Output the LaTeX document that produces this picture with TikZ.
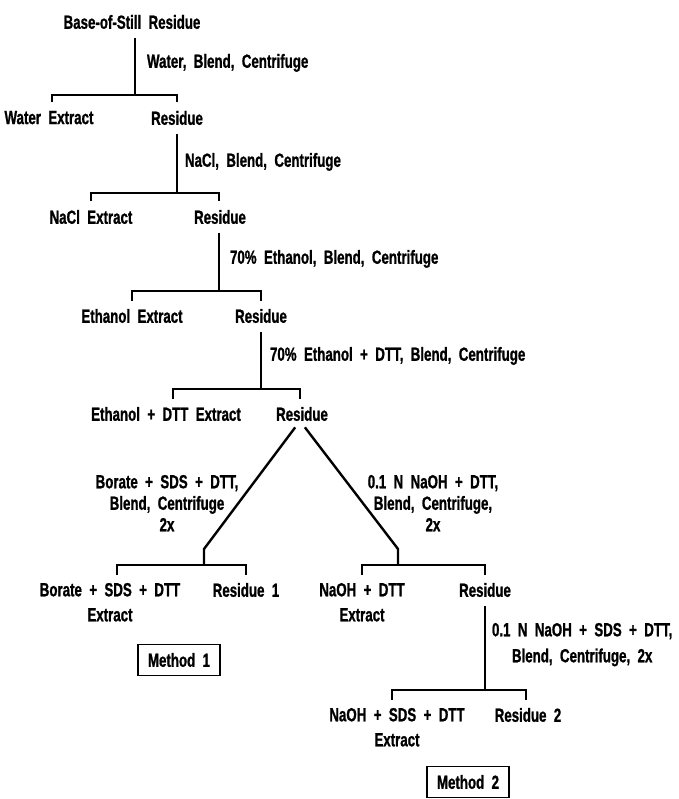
\documentclass[tikz,border=0pt]{standalone}
\usepackage{fontspec}
\newfontfamily\condsans{Liberation Sans}[FakeStretch=0.7,FakeBold=1.0,WordSpace=2.0]
\newcommand{\flowfont}{\condsans\bfseries\fontsize{19}{21.5}\selectfont}
\tikzset{
  txt/.style={inner sep=0pt, outer sep=0pt, font=\flowfont, anchor=north},
  lbl/.style={txt, anchor=north west},
  conn/.style={line width=2.4pt, line cap=butt, line join=miter},
  feed/.style={conn, shorten <=9pt},
  drop/.style={conn, shorten <=8.5pt, shorten >=8.5pt},
  methodbox/.style={draw, line width=1.5pt, inner sep=0pt, minimum width=82pt,
    minimum height=31pt, font=\flowfont}
}
\begin{document}
\begin{tikzpicture}[x=1pt,y=-1pt]
\useasboundingbox (0,0) rectangle (678,799);

% --- stage 1: water
\node[txt] (top) at (132,15) {Base-of-Still Residue};
\node[lbl] (l1) at (147,54) {Water, Blend, Centrifuge};
\node[txt] (wex) at (49,111) {Water Extract};
\node[txt] (r1) at (177,111) {Residue};
\coordinate (j1) at (135,95);
\draw[feed] ([xshift=3pt]top.south) -- (j1);
\draw[drop] ([xshift=3pt]wex.north) |- (j1) -| (r1.north);

% --- stage 2: NaCl
\node[lbl] (l2) at (185,153) {NaCl, Blend, Centrifuge};
\node[txt] (nex) at (91,210) {NaCl Extract};
\node[txt] (r2) at (220,210) {Residue};
\coordinate (j2) at (177,193);
\draw[feed] (r1.south) -- (j2);
\draw[drop] (nex.north) |- (j2) -| ([xshift=-1pt]r2.north);

% --- stage 3: ethanol
\node[lbl] (l3) at (230,250) {70\% Ethanol, Blend, Centrifuge};
\node[txt] (eex) at (132,309) {Ethanol Extract};
\node[txt] (r3) at (261,309) {Residue};
\coordinate (j3) at (219,291);
\draw[feed] ([xshift=-1pt]r2.south) -- (j3);
\draw[drop] (eex.north) |- (j3) -| (r3.north);

% --- stage 4: ethanol + DTT
\node[lbl] (l4) at (270,347) {70\% Ethanol + DTT, Blend, Centrifuge};
\node[txt] (dex) at (166,407) {Ethanol + DTT Extract};
\node[txt] (r4) at (302,407) {Residue};
\coordinate (j4) at (261,389);
\draw[feed] (r3.south) -- (j4);
\draw[drop] ([xshift=7pt]dex.north) |- (j4) -| ([xshift=-2pt]r4.north);

% --- split into the two methods
\node[txt, align=center] (lL) at (167,475)
  {Borate + SDS + DTT,\\Blend, Centrifuge\\2x};
\node[txt, align=center] (lR) at (433,475)
  {0.1 N NaOH + DTT,\\Blend, Centrifuge,\\2x};
\coordinate (kL) at (204,549);
\coordinate (jL) at (204,565);
\coordinate (kR) at (398,549);
\coordinate (jR) at (398,565);
\draw[feed, shorten <=8pt] ([xshift=-2pt]r4.south) -- (kL) -- (jL);
\draw[feed, shorten <=8pt] ([xshift=-2pt]r4.south) -- (kR) -- (jR);

% --- method 1
\node[txt, align=center] (bex) at (110,583) {Borate + SDS + DTT\\[3.5pt]Extract};
\node[txt] (res1) at (246,583) {Residue 1};
\draw[drop] ([xshift=7pt]bex.north) |- (jL) -| (res1.north);
\node[methodbox] (m1) at (179,660) {Method 1};

% --- method 2
\node[txt, align=center] (nex2) at (362,583) {NaOH + DTT\\[3.5pt]Extract};
\node[txt] (r5) at (485,583) {Residue};
\draw[drop] (nex2.north) |- (jR) -| (r5.north);

\node[txt, align=center, anchor=north west] (lS) at (492,623)
  {0.1 N NaOH + SDS + DTT,\\[4.5pt]Blend, Centrifuge, 2x};
\node[txt, align=center] (sex) at (397,708) {NaOH + SDS + DTT\\[3.5pt]Extract};
\node[txt] (res2) at (528,708) {Residue 2};
\coordinate (j6) at (485,690);
\draw[feed] (r5.south) -- (j6);
\draw[drop] ([xshift=-5pt]sex.north) |- (j6) -| ([xshift=-2pt]res2.north);
\node[methodbox] (m2) at (468,782) {Method 2};
\end{tikzpicture}
\end{document}
